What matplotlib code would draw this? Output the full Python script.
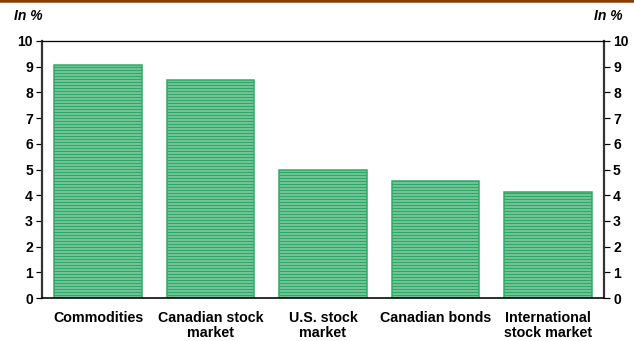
import matplotlib
matplotlib.use('Agg')
import matplotlib.pyplot as plt
from matplotlib.lines import Line2D

# 数据
categories = ['Commodities', 'Canadian stock\nmarket', 'U.S. stock\nmarket',
              'Canadian bonds', 'International\nstock market']
values = [9.05, 8.47, 5.0, 4.57, 4.12]
yticks = list(range(0, 11))

# dpi 108: 6 条 hatch 线/英寸 x 6 = 每 3 像素一条
DPI = 108


def px(v):
    """像素 -> 磅"""
    return v * 72.0 / DPI


plt.rcParams['font.family'] = ['Liberation Sans', 'DejaVu Sans']
plt.rcParams['hatch.linewidth'] = px(2.3)
plt.rcParams['hatch.color'] = '#009A4E'

fig = plt.figure(figsize=(634 / DPI, 341 / DPI), dpi=DPI)
ax = fig.add_axes([42 / 634, 1 - 298 / 341, 562 / 634, 257 / 341])

x = list(range(len(categories)))
ax.bar(x, values, width=0.78, facecolor='#EAF6EF', edgecolor='#2FA866',
       hatch='------', linewidth=px(1.5))

ax.set_xlim(-0.5, len(categories) - 0.5)
ax.set_ylim(0, 10)
ax.set_yticks(yticks)
ax.set_xticks(x)
ax.set_xticklabels(categories, fontsize=px(14.3), fontweight='bold',
                   linespacing=1.05)
ax.tick_params(axis='x', length=0, pad=px(13))
ax.tick_params(axis='y', direction='out', length=px(6), width=px(1.2),
               labelsize=px(14), left=True, right=True,
               labelleft=True, labelright=True, pad=px(3))
for lab in ax.get_yticklabels():
    lab.set_fontweight('bold')

ax.spines['left'].set_linewidth(px(2.2))
ax.spines['left'].set_color('#333333')
ax.spines['right'].set_linewidth(px(2.2))
ax.spines['right'].set_color('#333333')
ax.spines['top'].set_linewidth(px(1.3))
ax.spines['bottom'].set_linewidth(px(1.6))

# 单位标注
fig.text(14 / 634, 1 - 16 / 341, 'In %', fontsize=px(13.9), fontweight='bold',
         fontstyle='italic', ha='left', va='center')
fig.text(623 / 634, 1 - 16 / 341, 'In %', fontsize=px(13.9), fontweight='bold',
         fontstyle='italic', ha='right', va='center')

# 顶部棕色线
fig.add_artist(Line2D([0, 1], [1 - 1 / 341, 1 - 1 / 341], color='#8C3C00',
                      linewidth=px(3.5), transform=fig.transFigure))

plt.savefig('out.png', dpi=DPI)
